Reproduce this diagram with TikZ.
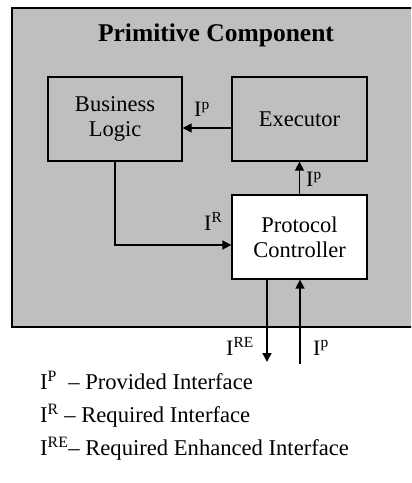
\documentclass[tikz,border=0pt]{standalone}
\usepackage{fontspec}
\setmainfont{Liberation Serif}
\usetikzlibrary{arrows.meta}
\definecolor{compgray}{RGB}{191,191,191}
\begin{document}
\begin{tikzpicture}[x=1bp,y=-1bp,
  box/.style={draw=black,line width=1.3bp,minimum width=135bp,minimum height=84bp,inner sep=0pt,align=center,font=\fontsize{22.5bp}{25bp}\selectfont},
  arr/.style={line width=1.6bp,-{Triangle[length=9bp,width=9bp]}},
  lbl/.style={inner sep=0pt,anchor=base west,font=\fontsize{22bp}{25bp}\selectfont},
  leg/.style={inner sep=0pt,anchor=base west,font=\fontsize{22.6bp}{25bp}\selectfont},
]
\useasboundingbox (0,0) rectangle (411,483);
\begin{scope}
\clip (0,0) rectangle (411,483);
\draw[fill=compgray,line width=1.8bp] (12,8) rectangle (414,327);
\end{scope}
\node[inner sep=0pt,anchor=base,font=\fontsize{25.5bp}{30bp}\selectfont\bfseries] (title) at (216,42) {Primitive Component};

\node[box,fill=compgray,minimum width=134bp] (bl) at (115,119) {Business\\Logic};
\node[box,fill=compgray] (ex) at (299.5,119) {Executor};
\node[box,fill=white] (pc) at (299.5,237) {Protocol\\Controller};

\draw[arr] ([yshift=-9bp]ex.west) -- ([yshift=-9bp]bl.east);
\draw[arr] (pc.north) -- (ex.south);
\draw[arr] (bl.south) |- ([yshift=-8bp]pc.west);
\coordinate (out) at (267,362);
\coordinate (in) at (300,364);
\draw[arr] (pc.south -| out) -- (out);
\draw[arr] (in) -- (in |- pc.south);

\node[lbl] (l1) at (194,117) {I\textsuperscript{p}};
\node[lbl] (l2) at (306,187) {I\textsuperscript{p}};
\node[lbl] (l3) at (204,230) {I\textsuperscript{R}};
\node[lbl] (l4) at (226,355) {I\textsuperscript{RE}};
\node[lbl] (l5) at (313,355) {I\textsuperscript{p}};

\node[leg] (g1) at (40,389) {I\textsuperscript{P}\hspace{0.5em}– Provided Interface};
\node[leg] (g2) at (40,422) {I\textsuperscript{R} – Required Interface};
\node[leg] (g3) at (40,455) {I\textsuperscript{RE}– Required Enhanced Interface};
\end{tikzpicture}
\end{document}
